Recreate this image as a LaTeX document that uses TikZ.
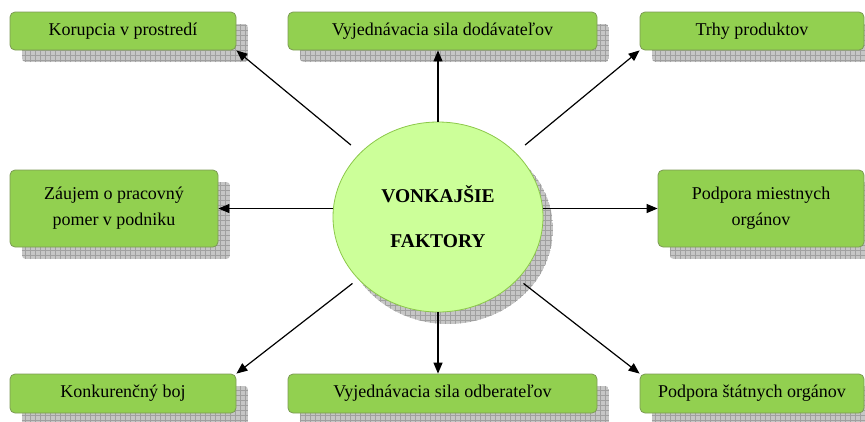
\documentclass[tikz,border=0pt]{standalone}
\usepackage{fontspec}
\setmainfont{Liberation Serif}
\usetikzlibrary{shapes.geometric,arrows.meta,backgrounds}
\definecolor{boxfill}{HTML}{92D050}
\definecolor{boxdraw}{HTML}{7C9A55}
\definecolor{ellfill}{HTML}{CCFF99}
\definecolor{elldraw}{HTML}{8CC84A}
\definecolor{shadefill}{HTML}{C6C6C6}
\definecolor{shadeline}{HTML}{A0A0A0}
\tikzset{
  fbox/.style={draw=boxdraw, fill=boxfill, rounded corners=5pt, line width=0.8pt,
    inner sep=0pt, align=center, font=\fontsize{18}{26}\selectfont, text=black},
  topbox/.style={fbox, minimum height=38pt},
  midbox/.style={fbox, minimum height=77pt},
  arr/.style={-{Triangle[length=11pt,width=9pt]}, line width=1.2pt},
  gridl/.style={shadeline, line width=0.4pt},
}
\newcommand{\gridshadow}[1]{%
  \begin{scope}
    \clip[rounded corners=5pt] ([shift={(12,12)}]#1.north west) rectangle ([shift={(12,12)}]#1.south east);
    \fill[shadefill] ([shift={(12,12)}]#1.north west) rectangle ([shift={(12,12)}]#1.south east);
    \draw[gridl, step=5pt] ([shift={(12,12)}]#1.south west) grid ([shift={(12,12)}]#1.north east);
  \end{scope}}
\begin{document}
\begin{tikzpicture}[x=1pt,y=-1pt]
\useasboundingbox (0,0) rectangle (865,421);
% boxes
\node[topbox, minimum width=226pt] (k1) at (123,31) {Korupcia v prostredí};
\node[topbox, minimum width=309pt] (k2) at (442.5,31) {Vyjednávacia sila dodávateľov};
\node[topbox, minimum width=224pt] (k3) at (752,31) {Trhy produktov};
\node[midbox, minimum width=208pt] (m1) at (114,208.5) {Záujem o pracovný\\pomer v podniku};
\node[midbox, minimum width=206pt] (m2) at (761,208.5) {Podpora miestnych\\orgánov};
\node[topbox, minimum width=226pt, minimum height=39pt] (b1) at (123,393.5) {Konkurenčný boj};
\node[topbox, minimum width=309pt, minimum height=39pt] (b2) at (442.5,393.5) {Vyjednávacia sila odberateľov};
\node[topbox, minimum width=224pt, minimum height=39pt] (b3) at (752,393.5) {Podpora štátnych orgánov};
% center
\node[ellipse, draw=elldraw, fill=ellfill, line width=0.8pt, minimum width=210pt, minimum height=190pt,
  inner sep=0pt, align=center, font=\bfseries\fontsize{19.5}{23}\selectfont] (c) at (438,217)
  {VONKAJŠIE\\[22pt]FAKTORY};
% shadows
\begin{scope}[on background layer]
  \gridshadow{k1}\gridshadow{k2}\gridshadow{k3}
  \gridshadow{m1}\gridshadow{m2}
  \gridshadow{b1}\gridshadow{b2}\gridshadow{b3}
  \begin{scope}
    \clip ([shift={(10,12)}]c.center) ellipse [x radius=105pt, y radius=95pt];
    \fill[shadefill] ([shift={(10,12)}]c.center) ellipse [x radius=105pt, y radius=95pt];
    \draw[gridl, step=5pt] ([shift={(-96,108)}]c.center) grid ([shift={(116,-84)}]c.center);
  \end{scope}
\end{scope}
% arrows
\draw[arr, shorten <=12pt] (c) -- (k1.south east);
\draw[arr] (c) -- (c |- k2.south);
\draw[arr, shorten <=12pt] (c) -- (k3.south west);
\draw[arr] (c.west |- m1) -- (m1);
\draw[arr] (c.east |- m2) -- (m2);
\draw[arr, shorten <=7pt] (c) -- (b1.north east);
\draw[arr] (c) -- (c |- b2.north);
\draw[arr, shorten <=7pt] (c) -- (b3.north west);
\end{tikzpicture}
\end{document}
